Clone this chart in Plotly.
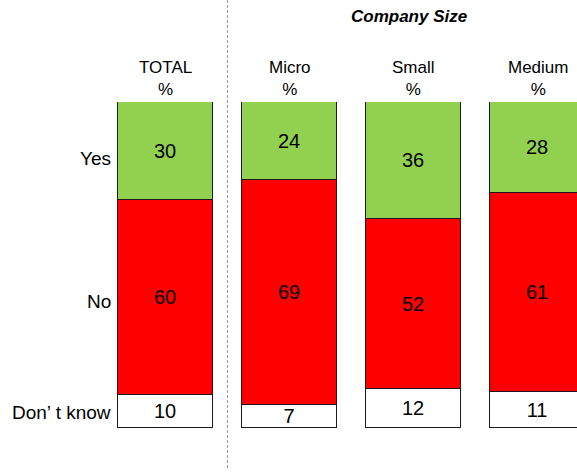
import plotly.graph_objects as go

groups = ["TOTAL", "Micro", "Small", "Medium"]
yes_vals = [30, 24, 36, 28]
no_vals = [60, 69, 52, 61]
dk_vals = [10, 7, 12, 11]
colors = {"Yes": "#92D050", "No": "#FF0000", "Don’ t know": "#FFFFFF"}
group_title = "Company Size"

FONT = "Liberation Sans, Arial, sans-serif"
xpos = list(range(len(groups)))
series = [("Don’ t know", dk_vals), ("No", no_vals), ("Yes", yes_vals)]
label_shift = {"Don’ t know": -1, "No": -4, "Yes": -8}

fig = go.Figure()
for name, vals in series:
    fig.add_trace(go.Bar(
        x=xpos, y=vals, name=name, width=0.766,
        marker=dict(color=colors[name], line=dict(color="#1a1a1a", width=1)),
        text=[str(v) for v in vals], textposition="inside", textangle=0,
        insidetextanchor="middle", constraintext="none",
        textfont=dict(family=FONT, size=20, color="black"),
        hoverinfo="skip",
    ))

# row labels, positioned at the TOTAL segment midpoints
base = 0
for name, vals in series:
    mid = base + vals[0] / 2
    base += vals[0]
    fig.add_annotation(x=0.196, xref="paper", y=mid, yref="y", text=name,
                       showarrow=False, xanchor="right", yanchor="middle",
                       yshift=label_shift[name],
                       font=dict(family=FONT, size=19, color="black"))

# column headers
for i, g in enumerate(groups):
    fig.add_annotation(x=i, xref="x", y=1.072, yref="paper", text=f"{g}<br>%",
                       showarrow=False, xanchor="center", yanchor="middle",
                       font=dict(family=FONT, size=17, color="black"))

fig.add_annotation(x=1.96, xref="x", y=1.261, yref="paper",
                   text=f"<b><i>{group_title}</i></b>", showarrow=False,
                   xanchor="center", yanchor="middle",
                   font=dict(family=FONT, size=17, color="black"))

fig.add_shape(type="line", x0=0.5, x1=0.5, xref="x", y0=1.313, y1=-0.129,
              yref="paper", line=dict(color="#999999", width=1, dash="3px,2px"))

fig.update_layout(
    barmode="stack", width=577, height=474, showlegend=False,
    paper_bgcolor="white", plot_bgcolor="white",
    margin=dict(l=0, r=0, t=102, b=46),
    xaxis=dict(range=[-1.3347, 3.3185], visible=False, fixedrange=True),
    yaxis=dict(range=[0, 100], visible=False, fixedrange=True),
    bargap=0,
)
fig.write_html("out.html", config={"displayModeBar": False},
               post_script="document.body.style.margin='0';document.body.style.overflow='hidden';")
